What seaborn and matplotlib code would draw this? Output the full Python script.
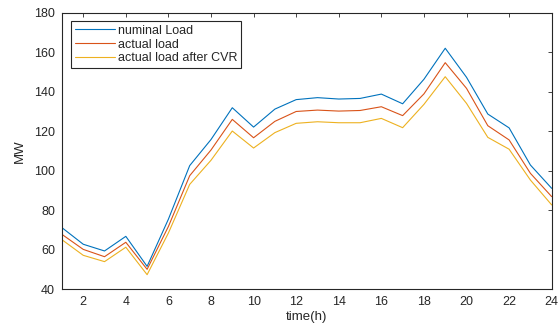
import pandas as pd
import seaborn as sns
import matplotlib.pyplot as plt

hours = list(range(1, 25))
nominal = [71.2, 62.8, 59.4, 66.8, 51.6, 75.5, 102.6, 115.8, 131.9, 122.1, 131.2, 136.0,
           137.0, 136.3, 136.6, 138.8, 133.9, 146.3, 162.0, 147.3, 128.7, 121.7, 102.9, 91.1]
actual = [67.8, 60.2, 56.5, 63.8, 50.1, 71.8, 97.5, 110.5, 126.0, 116.7, 125.0, 130.0,
          130.7, 130.2, 130.5, 132.4, 127.9, 138.9, 154.7, 141.7, 122.8, 115.6, 98.7, 86.9]
after_cvr = [65.1, 57.2, 54.0, 61.3, 47.4, 68.5, 93.1, 105.3, 120.1, 111.5, 119.3, 124.0,
             124.8, 124.3, 124.3, 126.5, 121.8, 133.6, 147.6, 134.1, 116.9, 110.9, 95.3, 82.7]
names = ['numinal Load', 'actual load', 'actual load after CVR']
colors = ['#0072BD', '#D95319', '#EDB120']

df = pd.DataFrame({
    'time': hours * 3,
    'MW': nominal + actual + after_cvr,
    'series': [names[0]] * 24 + [names[1]] * 24 + [names[2]] * 24,
})

sns.set_style('white')
plt.rcParams['font.family'] = ['Liberation Sans', 'DejaVu Sans']

fig = plt.figure(figsize=(5.58, 3.27), dpi=100)
ax = fig.add_axes([0.111, 0.1153, 0.8777, 0.8459])
sns.lineplot(data=df, x='time', y='MW', hue='series', palette=colors,
             linewidth=0.8, ax=ax)

ax.set_xlim(1, 24)
ax.set_ylim(40, 180)
ax.set_xticks(range(2, 25, 2))
ax.set_yticks(range(40, 181, 20))
ax.set_xlabel('time(h)', fontsize=9.5, color='#262626', labelpad=2)
ax.set_ylabel('MW', fontsize=9.5, color='#262626', labelpad=6)
ax.tick_params(direction='in', length=3, width=0.6, colors='#262626',
               labelsize=9, top=True, right=True, pad=5)
for tl in ax.get_xticklabels() + ax.get_yticklabels():
    tl.set_color('#262626')
for s in ax.spines.values():
    s.set_color('#262626')
    s.set_linewidth(0.8)

leg = ax.legend(loc='upper left', bbox_to_anchor=(0.0184, 0.970), borderaxespad=0,
                fontsize=9, fancybox=False, framealpha=1, edgecolor='#262626',
                handlelength=3.2, handletextpad=0.25, labelspacing=0.15,
                borderpad=0.3, title=None)
leg.get_frame().set_linewidth(0.8)

fig.savefig('out.png', dpi=100)
